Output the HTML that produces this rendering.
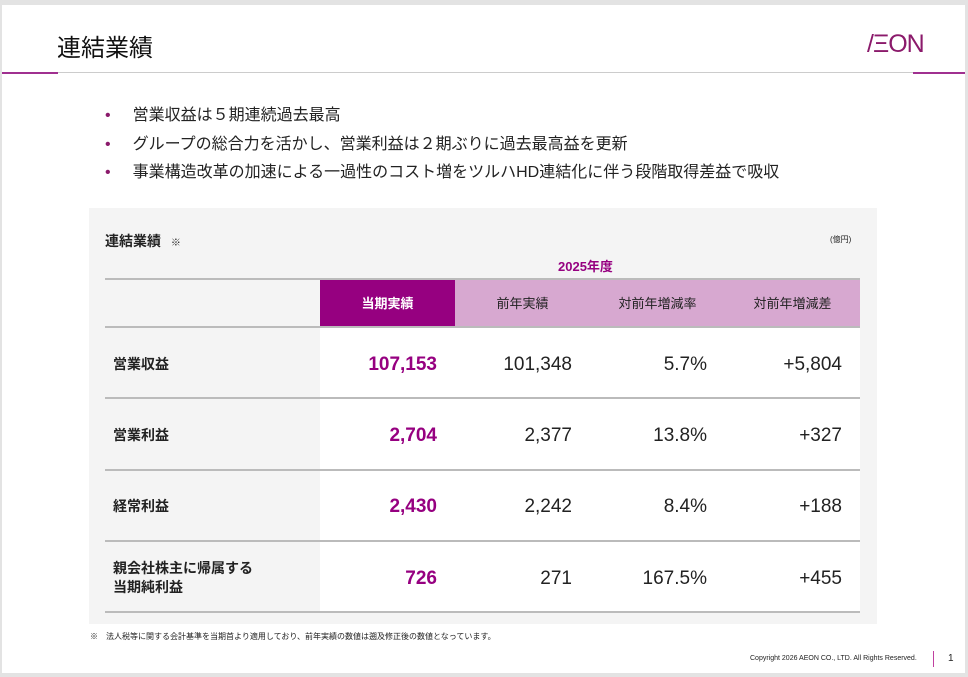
<!DOCTYPE html>
<html><head><meta charset="utf-8"><style>
*{margin:0;padding:0;box-sizing:border-box}
body{width:968px;height:677px;background:#e3e3e3;position:relative;overflow:hidden;font-family:"Liberation Sans","Noto Sans CJK JP",sans-serif;color:#222}
.slide{position:absolute;left:2px;top:5px;width:963px;height:668px;background:#fff}
.a{position:absolute;white-space:nowrap}
.num{position:absolute;font-size:19px;text-align:right;width:130px}
.lbl{position:absolute;font-size:14px;font-weight:bold;left:113px;line-height:19px}
.hl{position:absolute;left:105px;width:755px;height:2px;background:#bbb}
.hd{position:absolute;top:280px;height:47px;font-size:13px;line-height:47px;text-align:center;width:135px}
</style></head><body>
<div class="slide"></div>
<div class="a" style="left:57px;top:28px;font-size:24px;color:#111">連結業績</div>
<div class="a" style="left:867px;top:30px;font-size:25px;color:#8b1a6b;letter-spacing:-1px">/ΞON</div>
<div class="a" style="left:2px;top:72px;width:963px;height:1px;background:#ccc"></div>
<div class="a" style="left:2px;top:72px;width:56px;height:2px;background:#a03090"></div>
<div class="a" style="left:913px;top:72px;width:52px;height:2px;background:#a03090"></div>
<div class="a" style="left:105px;top:102px;font-size:16px;line-height:28.5px">
<div><span style="color:#8b1a6b;margin-right:22px">•</span>営業収益は５期連続過去最高</div>
<div><span style="color:#8b1a6b;margin-right:22px">•</span>グループの総合力を活かし、営業利益は２期ぶりに過去最高益を更新</div>
<div><span style="color:#8b1a6b;margin-right:22px">•</span>事業構造改革の加速による一過性のコスト増をツルハHD連結化に伴う段階取得差益で吸収</div>
</div>
<div class="a" style="left:89px;top:208px;width:788px;height:416px;background:#f4f4f4"></div>
<div class="a" style="left:320px;top:327px;width:540px;height:285px;background:#fff"></div>
<div class="a" style="left:105px;top:231px;font-size:14px;font-weight:bold">連結業績 <span style="font-size:10px;font-weight:normal;margin-left:6px">※</span></div>
<div class="a" style="left:830px;top:234px;font-size:8px">(億円)</div>
<div class="a" style="left:558px;top:256px;font-size:13px;font-weight:bold;color:#960080">2025年度</div>
<div class="a" style="left:320px;top:280px;width:135px;height:47px;background:#960080"></div>
<div class="a" style="left:455px;top:280px;width:405px;height:47px;background:#d7a8d0"></div>
<div class="hd" style="left:320px;color:#fff;font-weight:bold">当期実績</div>
<div class="hd" style="left:455px">前年実績</div>
<div class="hd" style="left:590px">対前年増減率</div>
<div class="hd" style="left:725px">対前年増減差</div>
<div class="hl" style="top:278px"></div>
<div class="hl" style="top:326px"></div>
<div class="hl" style="top:397px"></div>
<div class="hl" style="top:469px"></div>
<div class="hl" style="top:540px"></div>
<div class="hl" style="top:611px"></div>
<div class="lbl" style="top:355px">営業収益</div>
<div class="lbl" style="top:426px">営業利益</div>
<div class="lbl" style="top:497px">経常利益</div>
<div class="lbl" style="top:559px">親会社株主に帰属する<br>当期純利益</div>
<div style="color:#960080;font-weight:bold">
<div class="num" style="left:307px;top:354px">107,153</div>
<div class="num" style="left:307px;top:425px">2,704</div>
<div class="num" style="left:307px;top:496px">2,430</div>
<div class="num" style="left:307px;top:568px">726</div>
</div>
<div class="num" style="left:442px;top:354px">101,348</div>
<div class="num" style="left:442px;top:425px">2,377</div>
<div class="num" style="left:442px;top:496px">2,242</div>
<div class="num" style="left:442px;top:568px">271</div>
<div class="num" style="left:577px;top:354px">5.7%</div>
<div class="num" style="left:577px;top:425px">13.8%</div>
<div class="num" style="left:577px;top:496px">8.4%</div>
<div class="num" style="left:577px;top:568px">167.5%</div>
<div class="num" style="left:712px;top:354px">+5,804</div>
<div class="num" style="left:712px;top:425px">+327</div>
<div class="num" style="left:712px;top:496px">+188</div>
<div class="num" style="left:712px;top:568px">+455</div>
<div class="a" style="left:90px;top:631px;font-size:8px">※　法人税等に関する会計基準を当期首より適用しており、前年実績の数値は遡及修正後の数値となっています。</div>
<div class="a" style="left:750px;top:655px;font-size:7px">Copyright 2026 AEON CO., LTD. All Rights Reserved.</div>
<div class="a" style="left:933px;top:651px;width:1px;height:16px;background:#c040a0"></div>
<div class="a" style="left:948px;top:653px;font-size:10px">1</div>
</body></html>
